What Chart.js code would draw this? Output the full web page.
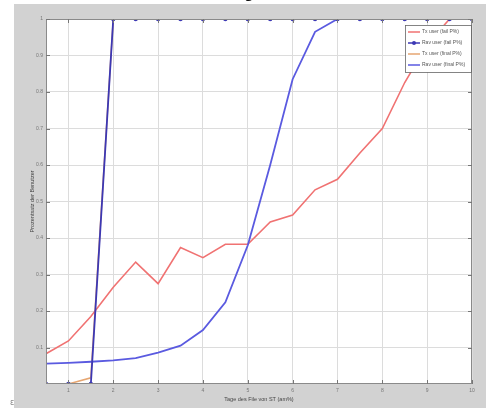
<!DOCTYPE html>
<html>
<head>
<meta charset="utf-8">
<script src="https://cdn.jsdelivr.net/npm/chart.js@4"></script>
<style>
html,body{margin:0;padding:0;background:#fff;}
#c{display:block;}
</style>
</head>
<body>
<canvas id="c" width="486" height="408"></canvas>
<script>
// ---- data ----
const xValues = [0.5,1,1.5,2,2.5,3,3.5,4,4.5,5,5.5,6,6.5,7,7.5,8,8.5,9,9.5,10];
const txFail   = [0.083,0.118,0.185,0.265,0.334,0.275,0.374,0.346,0.383,0.383,0.444,0.463,0.532,0.561,0.633,0.700,0.826,0.930,1,1];
const ravFail  = [0,0,0,1,1,1,1,1,1,1,1,1,1,1,1,1,1,1,1,1];
const txFinal  = [0,0,0.017,1,1,1,1,1,1,1,1,1,1,1,1,1,1,1,1,1];
const ravFinal = [0.056,0.058,0.061,0.065,0.071,0.086,0.105,0.148,0.224,0.380,0.600,0.835,0.965,1,1,1,1,1,1,1];
const xTicks = [1,2,3,4,5,6,7,8,9,10];
const yTicks = [0.1,0.2,0.3,0.4,0.5,0.6,0.7,0.8,0.9,1];
const seriesLabels = ['Tx user (fail P%)','Rav user (fail P%)','Tx user (final P%)','Rav user (final P%)'];
const xTitle = 'Tage des File von ST (am%)';
const yTitle = 'Prozentsatz der Benutzer';

const colors = ['#f07272','#3c38b4','#e6a672','#5a5ae0'];
const toPts = arr => arr.map((v,i)=>({x:xValues[i], y:v}));

const bgPlugin = {
  id:'bg',
  beforeDraw(chart){
    const ctx = chart.ctx, a = chart.chartArea;
    ctx.save();
    ctx.fillStyle = '#d2d2d2';
    ctx.fillRect(14,4,472,404);
    ctx.fillStyle = '#ffffff';
    ctx.fillRect(a.left,a.top,a.right-a.left,a.bottom-a.top);
    ctx.restore();
  },
  afterDraw(chart){
    const ctx = chart.ctx, a = chart.chartArea;
    ctx.save();
    ctx.strokeStyle = '#8a8a8a'; ctx.lineWidth = 1;
    ctx.strokeRect(a.left+0.5,a.top+0.5,a.right-a.left-1,a.bottom-a.top-1);
    const xs = chart.scales.x, ys = chart.scales.y;
    ctx.strokeStyle='#777';
    xTicks.forEach(t=>{const px=Math.round(xs.getPixelForValue(t))+0.5;
      ctx.beginPath();ctx.moveTo(px,a.bottom);ctx.lineTo(px,a.bottom-4);ctx.stroke();
      ctx.beginPath();ctx.moveTo(px,a.top);ctx.lineTo(px,a.top+4);ctx.stroke();});
    yTicks.forEach(t=>{const py=Math.round(ys.getPixelForValue(t))+0.5;
      ctx.beginPath();ctx.moveTo(a.left,py);ctx.lineTo(a.left+4,py);ctx.stroke();
      ctx.beginPath();ctx.moveTo(a.right,py);ctx.lineTo(a.right-4,py);ctx.stroke();});
    ctx.fillStyle='#444';
    ctx.font='5.5px "Liberation Sans", Arial, sans-serif';
    ctx.textAlign='center'; ctx.textBaseline='middle';
    ctx.fillText(xTitle,(a.left+a.right)/2,399);
    ctx.save();
    ctx.translate(32,(a.top+a.bottom)/2);
    ctx.rotate(-Math.PI/2);
    ctx.fillText(yTitle,0,0);
    ctx.restore();
    // legend box
    const lx=405, ly=25, lw=66, lh=47;
    ctx.fillStyle='#ffffff';
    ctx.fillRect(lx,ly,lw,lh);
    ctx.strokeStyle='#666'; ctx.lineWidth=0.8;
    ctx.strokeRect(lx+0.5,ly+0.5,lw,lh);
    const ds = chart.data.datasets;
    for(let i=0;i<seriesLabels.length;i++){
      const yy = ly+7+i*11;
      ctx.strokeStyle=ds[i].borderColor; ctx.lineWidth=1.5;
      ctx.beginPath();ctx.moveTo(lx+3,yy);ctx.lineTo(lx+15,yy);ctx.stroke();
      if(ds[i].pointRadius>0){
        ctx.fillStyle=ds[i].borderColor;
        ctx.beginPath();ctx.arc(lx+9,yy,2,0,Math.PI*2);ctx.fill();
      }
      ctx.fillStyle='#555';
      ctx.font='5px "Liberation Sans", Arial, sans-serif';
      ctx.textAlign='left'; ctx.textBaseline='middle';
      ctx.fillText(seriesLabels[i],lx+17,yy);
    }
    ctx.fillStyle='#111';
    ctx.font='16px "DejaVu Sans", sans-serif';
    ctx.textAlign='left'; ctx.textBaseline='alphabetic';
    ctx.fillText('g',244,-2);
    ctx.fillStyle='#888';
    ctx.font='8px "DejaVu Sans", sans-serif';
    ctx.fillText('ε',10,405);
    ctx.restore();
  }
};

new Chart(document.getElementById('c'),{
  type:'line',
  data:{
    datasets:[
      {label:seriesLabels[0],data:toPts(txFail),borderColor:colors[0],borderWidth:1.6,pointRadius:0,order:2},
      {label:seriesLabels[1],data:toPts(ravFail),borderColor:colors[1],backgroundColor:colors[1],borderWidth:1.8,pointRadius:2.2,pointStyle:'circle',pointBorderWidth:0,order:0},
      {label:seriesLabels[2],data:toPts(txFinal),borderColor:colors[2],borderWidth:1.5,pointRadius:0,order:3},
      {label:seriesLabels[3],data:toPts(ravFinal),borderColor:colors[3],borderWidth:1.8,pointRadius:0,order:1}
    ]
  },
  options:{
    responsive:false,
    animation:false,
    devicePixelRatio:1,
    layout:{padding:{left:0,top:19,right:14,bottom:0}},
    plugins:{legend:{display:false},tooltip:{enabled:false}},
    scales:{
      x:{
        type:'linear',min:0.5,max:10,
        afterBuildTicks(s){s.ticks = xTicks.map(v=>({value:v}));},
        afterFit(s){s.height=24;},
        grid:{color:'#dcdcdc',lineWidth:1,drawTicks:false},
        border:{display:false},
        ticks:{padding:4,color:'#777',font:{size:5,family:'"Liberation Sans", Arial, sans-serif'},maxRotation:0,autoSkip:false,callback:v=>String(v)}
      },
      y:{
        type:'linear',min:0,max:1,
        afterBuildTicks(s){s.ticks = yTicks.map(v=>({value:v}));},
        afterFit(s){s.width=46;},
        grid:{color:'#dcdcdc',lineWidth:1,drawTicks:false},
        border:{display:false},
        ticks:{padding:3,color:'#777',font:{size:5,family:'"Liberation Sans", Arial, sans-serif'},autoSkip:false,callback:v=>String(v)}
      }
    }
  },
  plugins:[bgPlugin]
});
</script>
</body>
</html>
